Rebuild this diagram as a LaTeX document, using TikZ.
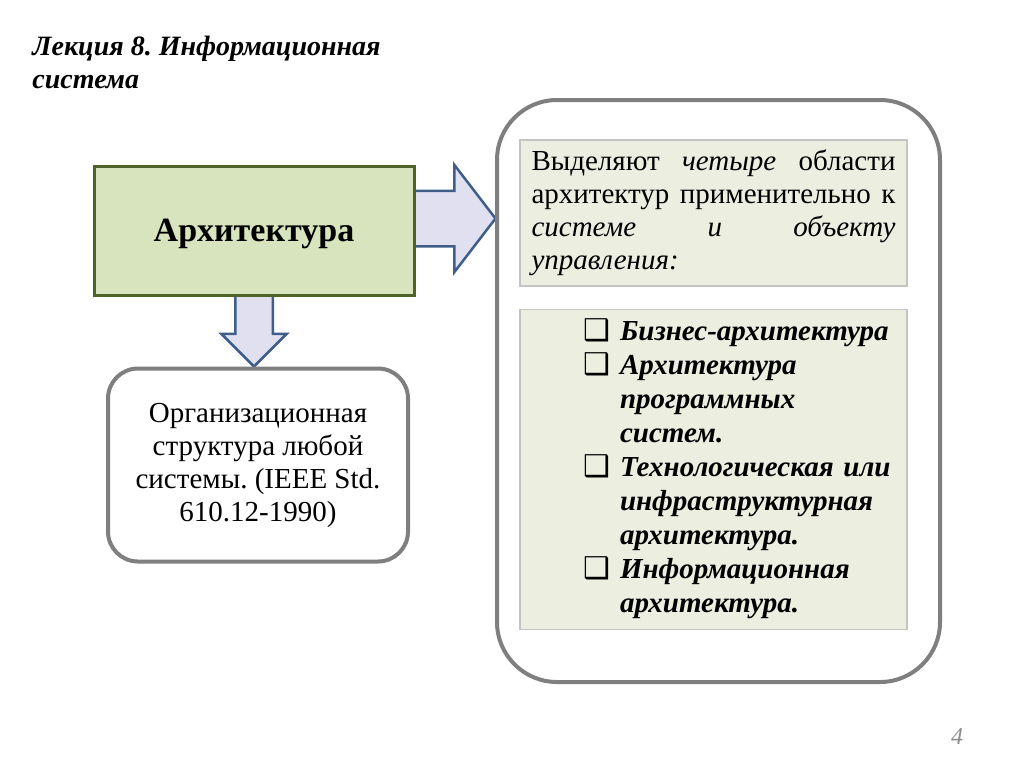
\documentclass[tikz,border=0pt]{standalone}
\usepackage{fontspec}
\setmainfont{Liberation Serif}
\newfontfamily\symfont{DejaVu Sans}
\usepackage{xcolor}
\definecolor{cArch}{HTML}{D7E4BD}
\definecolor{cArchLine}{HTML}{4F6228}
\definecolor{cPanel}{HTML}{ECEFE0}
\definecolor{cPanelLine}{HTML}{C4C4C4}
\definecolor{cFrame}{HTML}{7F7F7F}
\definecolor{cArrow}{HTML}{E1E0F0}
\definecolor{cArrowLine}{HTML}{3F5F8A}
\definecolor{cNum}{HTML}{8C8C8C}
\usepackage{tikz}
\usetikzlibrary{positioning,shapes.arrows,backgrounds}
\frenchspacing
\newcommand{\sqmark}{{\symfont\fontsize{15}{15}\selectfont ❑}}
\tikzset{
  node-box/.style={draw=cArchLine,line width=1.5pt,fill=cArch,
    minimum width=160pt,minimum height=64.5pt,
    font=\fontsize{17}{20}\selectfont\bfseries},
  node-frame/.style={draw=cFrame,line width=2pt,rounded corners=15pt},
  node-panel/.style={draw=cPanelLine,line width=0.6pt,fill=cPanel,
    font=\fontsize{14.5}{16.5}\selectfont},
  arrow-block/.style={single arrow,draw=cArrowLine,line width=1.25pt,
    fill=cArrow,inner xsep=0pt,outer sep=0pt,minimum width=0pt},
}

\begin{document}
\begin{tikzpicture}[x=0.5pt,y=-0.5pt]
  \useasboundingbox (0,0) rectangle (1024,768);
  \node[anchor=north west,inner sep=0pt,align=left,
    font=\fontsize{14}{16.5}\selectfont\bfseries\itshape] (title) at (32,36)
    {Лекция 8. Информационная\\система};
  \node[node-box,text depth=-2pt] (arch) at (254,230.5) {Архитектура};
  \begin{scope}[on background layer]
    \node[arrow-block,anchor=tail,xshift=-2pt,yshift=6pt,minimum height=42pt,inner ysep=13.25pt,
      single arrow head extend=13pt,single arrow tip angle=105] (toright) at (arch.east) {};
    \node[arrow-block,yshift=2pt,rotate=-90,anchor=tail,minimum height=37pt,inner ysep=8.75pt,
      single arrow head extend=7pt] (todown) at (arch.south) {};
  \end{scope}
  \node[node-frame,below=0pt of todown.tip,xshift=2pt,minimum width=150pt,minimum height=96.5pt,
    align=center,font=\fontsize{14.5}{16.5}\selectfont] (org)
    {Организационная\\структура любой\\системы. (IEEE Std.\\610.12-1990)};
  \node[node-frame,rounded corners=30pt,minimum width=221.5pt,minimum height=291pt] (frame) at (718.5,391) {};
  \node[node-panel,text width=182pt,inner xsep=5.75pt,minimum height=73pt] (areas) at (713.5,213)
    {Выделяют\hfill\textit{четыре}\hfill области\\
     архитектур\hfill применительно\hfill к\\
     \textit{системе\hfill и\hfill объекту}\\
     \textit{управления:}};
  \node[node-panel,text width=181.5pt,inner xsep=6pt,minimum height=158.5pt,align=left] (kinds) at (713.5,469.5)
    {\hspace*{25.5pt}\fontsize{14.5}{17}\selectfont\bfseries\itshape
     \begin{tabular}{@{}p{18.5pt}@{}l@{}}
       \sqmark & Бизнес-архитектура\\
       \sqmark & Архитектура\\
               & программных\\
               & систем.\\
       \sqmark & Технологическая или\\
               & инфраструктурная\\
               & архитектура.\\
       \sqmark & Информационная\\
               & архитектура.
     \end{tabular}};
  \node[font=\fontsize{12}{14}\selectfont\itshape,text=cNum] (pagenum) at (957,737) {4};
\end{tikzpicture}
\end{document}
